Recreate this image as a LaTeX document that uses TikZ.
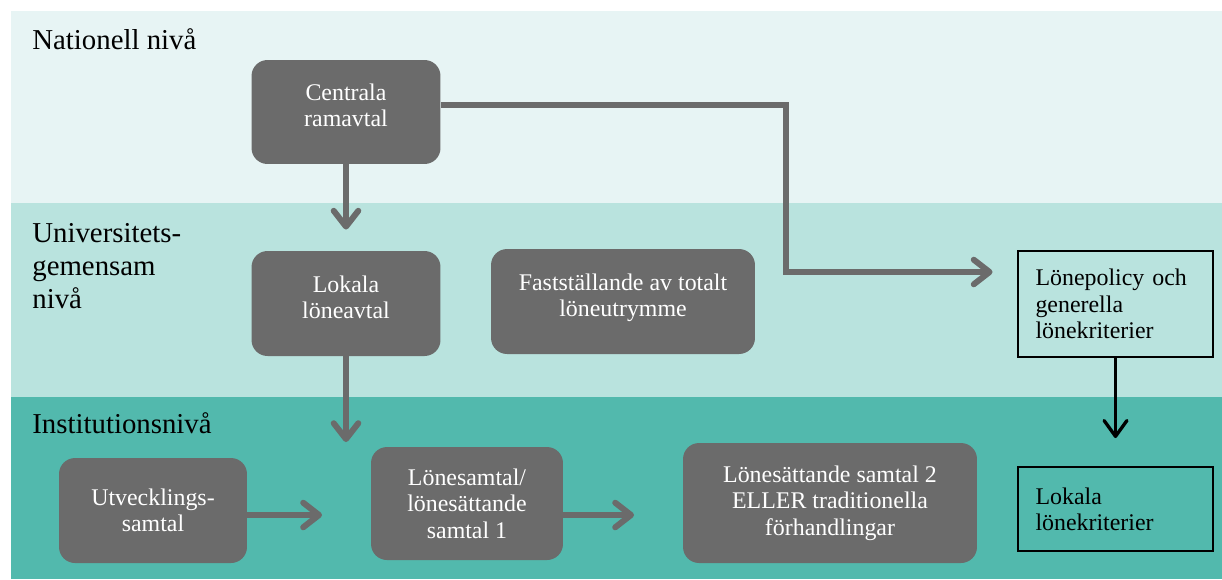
\documentclass[tikz,border=0pt]{standalone}
\usepackage{fontspec}
\setmainfont{Liberation Serif}
\usepackage{tikz}
\usetikzlibrary{arrows.meta,calc,positioning}
\definecolor{boxgrey}{HTML}{6B6B6B}
\definecolor{bandlight}{HTML}{E7F4F4}
\definecolor{bandmid}{HTML}{B9E3DE}
\definecolor{banddark}{HTML}{52B9AD}
\newcommand\boxfont{\fontsize{13.6}{15}\selectfont}
\newcommand\levelfont{\fontsize{16.4}{18.7}\selectfont}
\tikzset{%
	greybox/.style    = {rectangle, fill=boxgrey, rounded corners=0.32cm, text=white, align=center, font=\boxfont},
	framebox/.style   = {draw, line width=1pt, rectangle, align=left, text width=3.2cm, inner xsep=0.35cm, font=\boxfont},
	level/.style      = {anchor=base west, inner sep=0pt, align=left, font=\levelfont},
	arrow/.style      = {draw=boxgrey, line width=3.4pt, -{Straight Barb[length=9pt,width=14pt,round]}},
	blackarrow/.style = {draw=black, line width=1.9pt, -{Straight Barb[length=9pt,width=13pt,round]}},
}
\begin{document}
\begin{tikzpicture}[x=0.02cm,y=-0.02cm]
		\useasboundingbox (0,0) rectangle (1222,579);
		\fill[bandlight] (11,11) rectangle (1222,203);
		\fill[bandmid] (11,203) rectangle (1222,397);
		\fill[banddark] (11,397) rectangle (1222,579);
		
		\node[level] (national) at (32,49) {Nationell nivå};
		\node[level] (university) at (32,308) {Universitets-\\gemensam\\nivå};
		\node[level] (institution) at (32,433) {Institutionsnivå};
		
		\node[greybox, text depth=8pt, minimum width=3.78cm, minimum height=2.08cm] (central) at (346,112) {Centrala\\ramavtal};
		\node[greybox, text depth=7pt, minimum width=3.78cm, minimum height=2.1cm] (lokavtal) at (346,303.5) {Lokala\\löneavtal};
		\node[greybox, text depth=7pt, minimum width=5.28cm, minimum height=2.1cm] (faststall) at (623,301.5) {Fastställande av totalt\\löneutrymme};
		\node[framebox, minimum height=2.12cm] (policy) at (1115.5,304) {Lönepolicy och\\generella\\lönekriterier};
		
		\node[greybox, minimum width=3.76cm, minimum height=2.1cm] (utv) at (153,510.5) {Utvecklings-\\samtal};
		\node[greybox, minimum width=3.84cm, minimum height=2.26cm] (lonesamtal) at (467,503.5) {Lönesamtal/\\lönesättande\\samtal 1};
		\node[greybox, minimum width=5.88cm, minimum height=2.4cm] (lonesatt) at (830,503) {Lönesättande samtal 2\\ELLER traditionella\\förhandlingar};
		\node[framebox, minimum height=1.68cm] (lokkrit) at (1115.5,509) {Lokala\\lönekriterier};
		
		\coordinate (bend) at (786,272);
		\coordinate (in1) at (346,442);
		\coordinate (in2) at (322,515);
		\coordinate (in3) at (634,515);
		
		\draw[arrow, shorten >=12pt] (central.south) -- (lokavtal.north);
		\draw[arrow, shorten >=14pt] ([yshift=4pt]central.east) -| (bend) -- (bend -| policy.west);
		\draw[arrow] (lokavtal.south) -- (in1);
		\draw[arrow] (utv.east |- in2) -- (in2);
		\draw[arrow] (lonesamtal.east |- in3) -- (in3);
		\draw[blackarrow, shorten >=16pt] (policy.south) -- (lokkrit.north);
\end{tikzpicture}
\end{document}
